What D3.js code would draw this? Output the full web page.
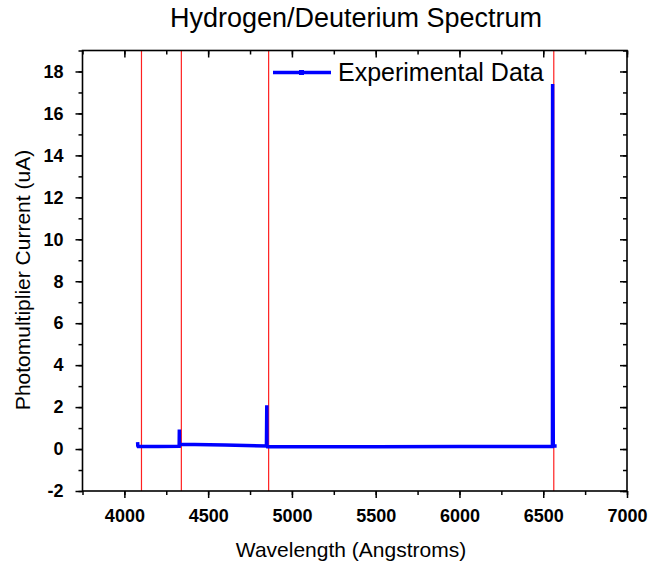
<!DOCTYPE html>
<html>
<head>
<meta charset="utf-8">
<script src="https://cdn.jsdelivr.net/npm/d3@7"></script>
<style>
  body { margin: 0; background: #fff; }
  svg { display: block; }
</style>
</head>
<body>
<div id="chart"></div>
<script>
// Data
const wavelength = [4079, 4080, 4082, 4200, 4327, 4328, 4329, 4332, 4600, 4848, 4850, 4851, 4853, 5500, 6000, 6555, 6556, 6557, 6560, 6580];
const current    = [0.33, 0.15, 0.12, 0.12, 0.13, 0.93, 0.15, 0.23, 0.19, 0.15, 2.09, 0.13, 0.11, 0.11, 0.12, 0.12, 17.4, 6.9, 0.14, 0.14];

// Balmer reference lines (red)
const balmerLines = [4102, 4340, 4861, 6563];

const xTicks = [4000, 4500, 5000, 5500, 6000, 6500, 7000];
const yTicks = [-2, 0, 2, 4, 6, 8, 10, 12, 14, 16, 18];

const width = 651;
const height = 569;
const margin = { top: 50.5, right: 24, bottom: 78, left: 82.5 };
const font = "'Liberation Sans', Arial, sans-serif";

const svg = d3.select("#chart")
    .append("svg")
    .attr("width", width)
    .attr("height", height)
    .style("font-family", font);

const x = d3.scaleLinear()
    .domain([3750, 7000])
    .range([margin.left, width - margin.right]);

const y = d3.scaleLinear()
    .domain([-2, 19])
    .range([height - margin.bottom, margin.top]);

const points = wavelength.map((w, i) => ({ w, c: current[i] }));

// reference lines
svg.append("g")
    .selectAll("line")
    .data(balmerLines)
    .join("line")
    .attr("x1", d => x(d))
    .attr("x2", d => x(d))
    .attr("y1", margin.top)
    .attr("y2", height - margin.bottom)
    .attr("stroke", "#ff2020")
    .attr("stroke-width", 1.2);

// data line
const line = d3.line()
    .x(d => x(d.w))
    .y(d => y(d.c));

svg.append("path")
    .datum(points)
    .attr("d", line)
    .attr("fill", "none")
    .attr("stroke", "#0000ff")
    .attr("stroke-width", 3.5)
    .attr("stroke-linejoin", "miter");

// axes: bottom/left outward, top/right inward
const xMinor = d3.range(3750, 7001, 250);
const yMinor = d3.range(-2, 19.01, 1);
const noLabel = () => "";
const plain = d => String(d);

svg.append("g")
    .attr("transform", `translate(0,${height - margin.bottom})`)
    .call(d3.axisBottom(x).tickValues(xMinor).tickSize(4).tickFormat(noLabel));
svg.append("g")
    .attr("class", "lbl")
    .attr("transform", `translate(0,${height - margin.bottom})`)
    .call(d3.axisBottom(x).tickValues(xTicks).tickSize(7).tickPadding(11).tickFormat(plain));
svg.append("g")
    .attr("transform", `translate(0,${margin.top})`)
    .call(d3.axisBottom(x).tickValues(xMinor).tickSize(4).tickFormat(noLabel));
svg.append("g")
    .attr("transform", `translate(0,${margin.top})`)
    .call(d3.axisBottom(x).tickValues(xTicks).tickSize(7).tickFormat(noLabel));

svg.append("g")
    .attr("transform", `translate(${margin.left},0)`)
    .call(d3.axisLeft(y).tickValues(yMinor).tickSize(4).tickFormat(noLabel));
svg.append("g")
    .attr("class", "lbl")
    .attr("transform", `translate(${margin.left},0)`)
    .call(d3.axisLeft(y).tickValues(yTicks).tickSize(7).tickPadding(12).tickFormat(plain));
svg.append("g")
    .attr("transform", `translate(${width - margin.right},0)`)
    .call(d3.axisLeft(y).tickValues(yMinor).tickSize(4).tickFormat(noLabel));
svg.append("g")
    .attr("transform", `translate(${width - margin.right},0)`)
    .call(d3.axisLeft(y).tickValues(yTicks).tickSize(7).tickFormat(noLabel));

svg.selectAll(".domain").remove();
svg.selectAll(".tick line").attr("stroke", "#000").attr("stroke-width", 1.5);
svg.selectAll(".lbl text")
    .style("font-family", font)
    .style("font-size", "18px")
    .style("font-weight", "bold")
    .attr("fill", "#000");

// frame
svg.append("rect")
    .attr("x", margin.left)
    .attr("y", margin.top)
    .attr("width", width - margin.right - margin.left)
    .attr("height", height - margin.bottom - margin.top)
    .attr("fill", "none")
    .attr("stroke", "#000")
    .attr("stroke-width", 1.6);

// title and axis labels
svg.append("text")
    .attr("x", 356)
    .attr("y", 27)
    .attr("text-anchor", "middle")
    .style("font-size", "27px")
    .text("Hydrogen/Deuterium Spectrum");

svg.append("text")
    .attr("x", 351)
    .attr("y", 557)
    .attr("text-anchor", "middle")
    .style("font-size", "21px")
    .text("Wavelength (Angstroms)");

svg.append("text")
    .attr("transform", `translate(30,280) rotate(-90)`)
    .attr("text-anchor", "middle")
    .style("font-size", "21px")
    .text("Photomultiplier Current (uA)");

// legend
const legend = svg.append("g").attr("transform", "translate(273,72.5)");
legend.append("line")
    .attr("x1", 0).attr("x2", 58)
    .attr("stroke", "#0000ff")
    .attr("stroke-width", 3.5);
legend.append("rect")
    .attr("x", 26).attr("y", -2.5)
    .attr("width", 5).attr("height", 5)
    .attr("fill", "#0000ff");
legend.append("text")
    .attr("x", 65)
    .attr("y", 81 - 72.5)
    .style("font-size", "25px")
    .text("Experimental Data");
</script>
</body>
</html>
